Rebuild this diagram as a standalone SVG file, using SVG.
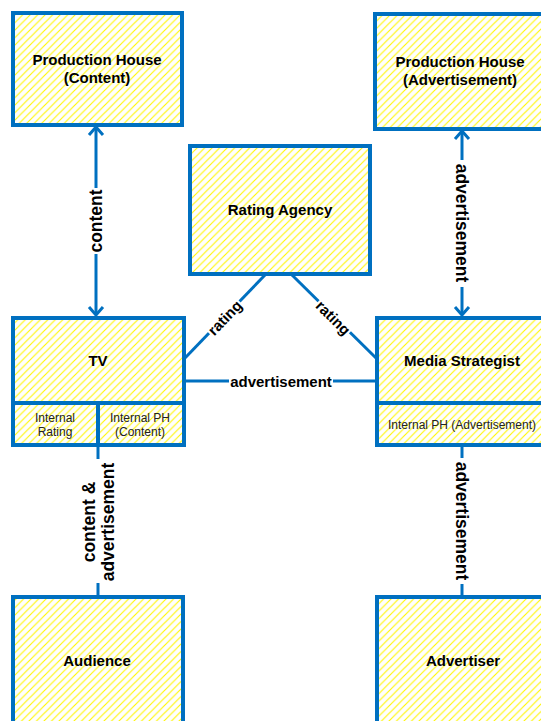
<svg xmlns="http://www.w3.org/2000/svg" width="541" height="721" viewBox="0 0 541 721">
<defs>
<pattern id="hatch" patternUnits="userSpaceOnUse" width="7.5" height="7.5">
<path d="M0,7.5 L7.5,0 M-2,2 L2,-2 M5.5,9.5 L9.5,5.5" stroke="#FFF500" stroke-width="1.1" fill="none"/>
</pattern>
<marker id="arr" viewBox="-10 -9 12 18" refX="0" refY="0" markerWidth="12" markerHeight="18" markerUnits="userSpaceOnUse" orient="auto-start-reverse">
<path d="M-8,-7 L0,0 L-8,7" fill="none" stroke="#0070C0" stroke-width="3"/>
</marker>
</defs>
<style>
.box{fill:url(#hatch);stroke:#0070C0;stroke-width:4}
.div{stroke:#0070C0;stroke-width:4;fill:none}
.t{font-family:"Liberation Sans",Arial,sans-serif;font-weight:bold;font-size:15px;fill:#000;text-anchor:middle}
.s{font-family:"Liberation Sans",Arial,sans-serif;font-size:12px;fill:#222;text-anchor:middle}
.c{stroke:#0070C0;stroke-width:3;fill:none}
.lb{font-family:"Liberation Sans",Arial,sans-serif;font-weight:bold;font-size:15px;fill:#000;text-anchor:middle}
.lv{font-family:"Liberation Sans",Arial,sans-serif;font-weight:bold;font-size:17.5px;fill:#000;text-anchor:middle}
</style>
<rect width="541" height="721" fill="#fff"/>
<g id="connectors">
<line class="c" x1="96" y1="127" x2="96" y2="315" marker-start="url(#arr)" marker-end="url(#arr)"/>
<line class="c" x1="462" y1="131" x2="462" y2="315" marker-start="url(#arr)" marker-end="url(#arr)"/>
<line class="c" x1="265" y1="275" x2="185" y2="358"/>
<line class="c" x1="292" y1="275" x2="376" y2="358"/>
<line class="c" x1="185" y1="381" x2="376" y2="381"/>
<line class="c" x1="98" y1="446" x2="98" y2="597"/>
<line class="c" x1="462" y1="446" x2="462" y2="597"/>
<rect x="86" y="188" width="20" height="66" fill="#fff"/>
<text class="lv" transform="translate(96,221) rotate(-90)" dy="6">content</text>
<rect x="452" y="160" width="20" height="127" fill="#fff"/>
<text class="lv" transform="translate(462,223) rotate(90)" dy="6">advertisement</text>
<rect x="229" y="373" width="104" height="16" fill="#fff"/>
<text class="lb" x="281" y="386.5">advertisement</text>
<g transform="translate(225,318) rotate(-46)">
<rect x="-22" y="-8" width="44" height="16" fill="#fff"/>
<text class="lb" y="5">rating</text>
</g>
<g transform="translate(333,318) rotate(45)">
<rect x="-22" y="-8" width="44" height="16" fill="#fff"/>
<text class="lb" y="5">rating</text>
</g>
<rect x="77" y="459" width="42" height="124" fill="#fff"/>
<text class="lv" transform="translate(98,522) rotate(-90)"><tspan x="0" dy="-3">content &amp;</tspan><tspan x="0" dy="19">advertisement</tspan></text>
<rect x="452" y="458" width="20" height="126" fill="#fff"/>
<text class="lv" transform="translate(462,521) rotate(90)" dy="6">advertisement</text>
</g>
<g id="ph-content">
<rect class="box" x="13" y="13" width="169" height="112"/>
<text class="t" x="97" y="65">Production House</text>
<text class="t" x="97" y="83">(Content)</text>
</g>
<g id="ph-ad">
<rect class="box" x="375" y="14" width="175" height="115"/>
<text class="t" x="460" y="67">Production House</text>
<text class="t" x="460" y="85">(Advertisement)</text>
</g>
<g id="rating-agency">
<rect class="box" x="190" y="146" width="180" height="128"/>
<text class="t" x="280" y="215">Rating Agency</text>
</g>
<g id="tv">
<rect class="box" x="13" y="318" width="171" height="127"/>
<line class="div" x1="13" y1="403" x2="184" y2="403"/>
<line class="div" x1="98" y1="403" x2="98" y2="445"/>
<text class="t" x="98" y="366">TV</text>
<text class="s" x="55" y="422">Internal</text>
<text class="s" x="55" y="436">Rating</text>
<text class="s" x="140" y="422">Internal PH</text>
<text class="s" x="140" y="436">(Content)</text>
</g>
<g id="media-strategist">
<rect class="box" x="377" y="318" width="173" height="127"/>
<line class="div" x1="377" y1="403" x2="550" y2="403"/>
<text class="t" x="462" y="366">Media Strategist</text>
<text class="s" x="462" y="429">Internal PH (Advertisement)</text>
</g>
<g id="audience">
<rect class="box" x="13" y="597" width="170" height="135"/>
<text class="t" x="97" y="666">Audience</text>
</g>
<g id="advertiser">
<rect class="box" x="377" y="597" width="173" height="135"/>
<text class="t" x="463" y="666">Advertiser</text>
</g>
</svg>
